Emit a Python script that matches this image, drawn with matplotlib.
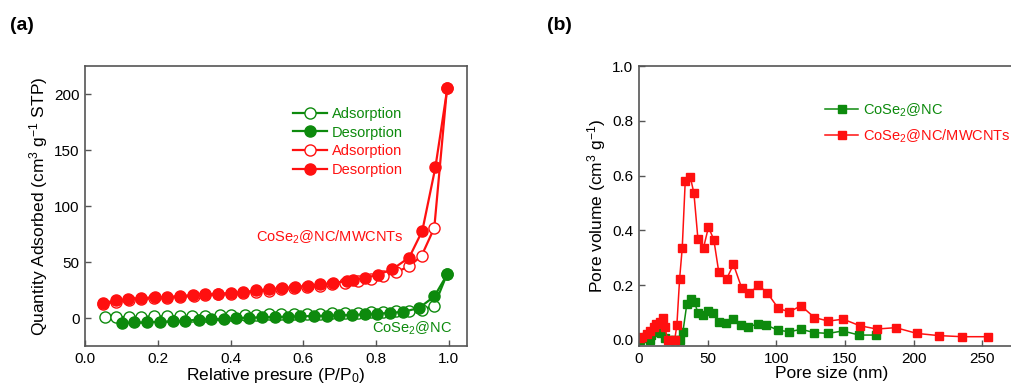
import matplotlib
matplotlib.use('Agg')
import matplotlib.pyplot as plt

plt.rcParams['font.family'] = ['Liberation Sans', 'DejaVu Sans']
plt.rcParams['mathtext.fontset'] = 'custom'
plt.rcParams['mathtext.rm'] = 'Liberation Sans'
plt.rcParams['mathtext.it'] = 'Liberation Sans'

GREEN = '#0d8a0d'
RED = '#ff1010'

# (a) N2 isotherms
nc_ads_p = [0.055, 0.085, 0.12, 0.155, 0.19, 0.225, 0.26, 0.295, 0.33, 0.37, 0.40, 0.44,
            0.47, 0.505, 0.54, 0.575, 0.61, 0.645, 0.68, 0.715, 0.75, 0.785, 0.82, 0.855,
            0.89, 0.925, 0.96, 0.995]
nc_ads_q = [0.5, 0.8, 1.0, 1.2, 1.4, 1.6, 1.8, 2.0, 2.2, 2.4, 2.6, 2.8, 3.0, 3.2, 3.4, 3.6,
            3.8, 4.0, 4.3, 4.6, 4.9, 5.2, 5.6, 6.0, 6.5, 7.4, 11.0, 39.2]
nc_des_p = [0.101, 0.136, 0.170, 0.205, 0.241, 0.275, 0.312, 0.346, 0.381, 0.416, 0.451,
            0.486, 0.523, 0.558, 0.592, 0.629, 0.664, 0.699, 0.733, 0.770, 0.803, 0.838,
            0.875, 0.918, 0.960, 0.996]
nc_des_q = [-4.5, -3.9, -3.9, -3.3, -3.0, -2.4, -1.5, -1.2, -0.6, 0.0, 0.3, 0.6, 0.9, 1.2,
            1.5, 1.8, 2.1, 2.4, 2.7, 3.3, 3.9, 4.5, 5.6, 8.9, 19.3, 39.2]

cnt_ads_p = [0.05, 0.085, 0.12, 0.155, 0.19, 0.225, 0.26, 0.30, 0.33, 0.365, 0.40, 0.435,
             0.47, 0.505, 0.54, 0.575, 0.61, 0.645, 0.68, 0.715, 0.75, 0.785, 0.82, 0.855,
             0.89, 0.925, 0.96, 0.995]
cnt_ads_q = [12.5, 14.5, 16.0, 17.0, 17.5, 18.0, 19.0, 19.5, 20.5, 21.0, 21.5, 22.5, 23.5,
             24.5, 25.5, 26.5, 27.5, 28.5, 30.0, 31.5, 33.0, 35.0, 37.5, 41.0, 46.0, 55.5,
             80.5, 205.5]
cnt_des_p = [0.049, 0.085, 0.119, 0.154, 0.191, 0.225, 0.260, 0.297, 0.331, 0.365, 0.400,
             0.435, 0.471, 0.506, 0.541, 0.578, 0.612, 0.647, 0.682, 0.719, 0.736, 0.770,
             0.805, 0.845, 0.891, 0.927, 0.963, 0.996]
cnt_des_q = [13.4, 15.7, 16.9, 17.8, 18.4, 18.7, 19.6, 20.5, 21.1, 21.7, 22.3, 23.2, 24.6,
             25.8, 26.7, 27.6, 28.8, 30.0, 31.2, 33.0, 34.1, 35.9, 38.6, 43.6, 54.0, 77.8,
             134.5, 205.5]

# (b) pore size distribution
nc_size = [0.5, 1.7, 5.3, 7.8, 9.0, 12.6, 16.3, 18.7, 22.3, 25.9, 29.6, 32.0, 34.9, 38.0,
           40.5, 42.9, 46.5, 50.1, 53.8, 58.6, 63.5, 68.3, 74.4, 79.2, 86.5, 92.6, 101.0,
           109.5, 118.0, 127.7, 137.9, 148.3, 160.4, 172.5]
nc_vol = [0.0, 0.006, 0.012, 0.0, 0.018, 0.03, 0.024, 0.006, 0.0, 0.0, 0.0, 0.03, 0.133,
          0.148, 0.14, 0.097, 0.091, 0.105, 0.097, 0.067, 0.061, 0.075, 0.055, 0.048, 0.058,
          0.055, 0.036, 0.03, 0.039, 0.027, 0.024, 0.033, 0.018, 0.018]
cnt_size = [0.5, 2.4, 5.8, 8.2, 10.7, 12.6, 15.0, 17.4, 18.7, 21.0, 26.0, 27.6, 29.6, 31.5,
            33.7, 37.3, 40.0, 42.9, 47.0, 50.6, 54.5, 58.1, 63.9, 68.8, 74.9, 80.4, 86.9,
            93.3, 101.5, 109.5, 118.0, 127.7, 137.8, 148.7, 160.8, 173.2, 187.0, 202.3,
            218.3, 235.5, 254.0]
cnt_vol = [0.006, 0.012, 0.022, 0.034, 0.048, 0.06, 0.067, 0.079, 0.048, 0.0, 0.0, 0.055,
           0.224, 0.336, 0.582, 0.596, 0.536, 0.37, 0.337, 0.412, 0.366, 0.248, 0.224, 0.276,
           0.188, 0.17, 0.2, 0.173, 0.115, 0.103, 0.125, 0.082, 0.069, 0.076, 0.052, 0.04,
           0.045, 0.024, 0.016, 0.012, 0.012]

fig = plt.figure(figsize=(10.12, 3.89), dpi=100)

def style_axes(ax):
    for s in ax.spines.values():
        s.set_color('#555555')
        s.set_linewidth(1.2)
    ax.tick_params(direction='in', length=4, width=1, labelsize=11, color='#555555',
                   top=False, right=False, pad=4)

# ---- panel (a)
ax1 = fig.add_axes([0.084, 0.1105, 0.3775, 0.7198])
ax1.plot(nc_ads_p, nc_ads_q, '-o', color=GREEN, mfc='white', mec=GREEN, ms=8, lw=1.6,
         mew=1.0, label='Adsorption')
ax1.plot(nc_des_p, nc_des_q, '-o', color=GREEN, ms=8, lw=1.6, label='Desorption')
ax1.plot(cnt_ads_p, cnt_ads_q, '-o', color=RED, mfc='white', mec=RED, ms=8, lw=1.6,
         mew=1.0, label='Adsorption')
ax1.plot(cnt_des_p, cnt_des_q, '-o', color=RED, ms=8, lw=1.6, label='Desorption')
ax1.set_xlim(0, 1.05)
ax1.set_ylim(-25, 225)
ax1.set_xticks([0.0, 0.2, 0.4, 0.6, 0.8, 1.0])
ax1.set_yticks([0, 50, 100, 150, 200])
style_axes(ax1)
ax1.set_xlabel(r'Relative presure (P/P$_0$)', fontsize=12.5, labelpad=0)
ax1.set_ylabel(r'Quantity Adsorbed (cm$^3$ g$^{-1}$ STP)', fontsize=12.5, labelpad=3)
ax1.legend(loc='upper left', bbox_to_anchor=(0.53, 0.875), frameon=False, fontsize=10.5,
           labelcolor='linecolor', handlelength=2.3, handletextpad=0.35, labelspacing=0.32,
           borderaxespad=0)
ax1.text(0.876, 72, r'CoSe$_2$@NC/MWCNTs', color=RED, fontsize=10.5, ha='right',
         va='center')
ax1.text(1.008, -9, r'CoSe$_2$@NC', color=GREEN, fontsize=10.5, ha='right', va='center')
fig.text(0.010, 0.935, '(a)', fontsize=14, fontweight='bold', va='center')

# ---- panel (b)
ax2 = fig.add_axes([0.6314, 0.1105, 0.38, 0.7198])
ax2.plot(nc_size, nc_vol, '-s', color=GREEN, ms=6, lw=1.1, label=r'CoSe$_2$@NC')
ax2.plot(cnt_size, cnt_vol, '-s', color=RED, ms=6, lw=1.1, label=r'CoSe$_2$@NC/MWCNTs')
ax2.set_xlim(0, 280)
ax2.set_ylim(-0.022, 1.0)
ax2.set_xticks([0, 50, 100, 150, 200, 250])
ax2.set_yticks([0.0, 0.2, 0.4, 0.6, 0.8, 1.0])
style_axes(ax2)
ax2.set_xlabel('Pore size (nm)', fontsize=12.5, labelpad=0)
ax2.set_ylabel(r'Pore volume (cm$^3$ g$^{-1}$)', fontsize=12.5, labelpad=3)
ax2.legend(loc='upper left', bbox_to_anchor=(0.468, 0.895), frameon=False, fontsize=10.5,
           labelcolor='linecolor', handlelength=2.3, handletextpad=0.3, labelspacing=0.6,
           borderaxespad=0)
fig.text(0.541, 0.935, '(b)', fontsize=14, fontweight='bold', va='center')

fig.savefig('out.png', dpi=100)
plt.close(fig)
